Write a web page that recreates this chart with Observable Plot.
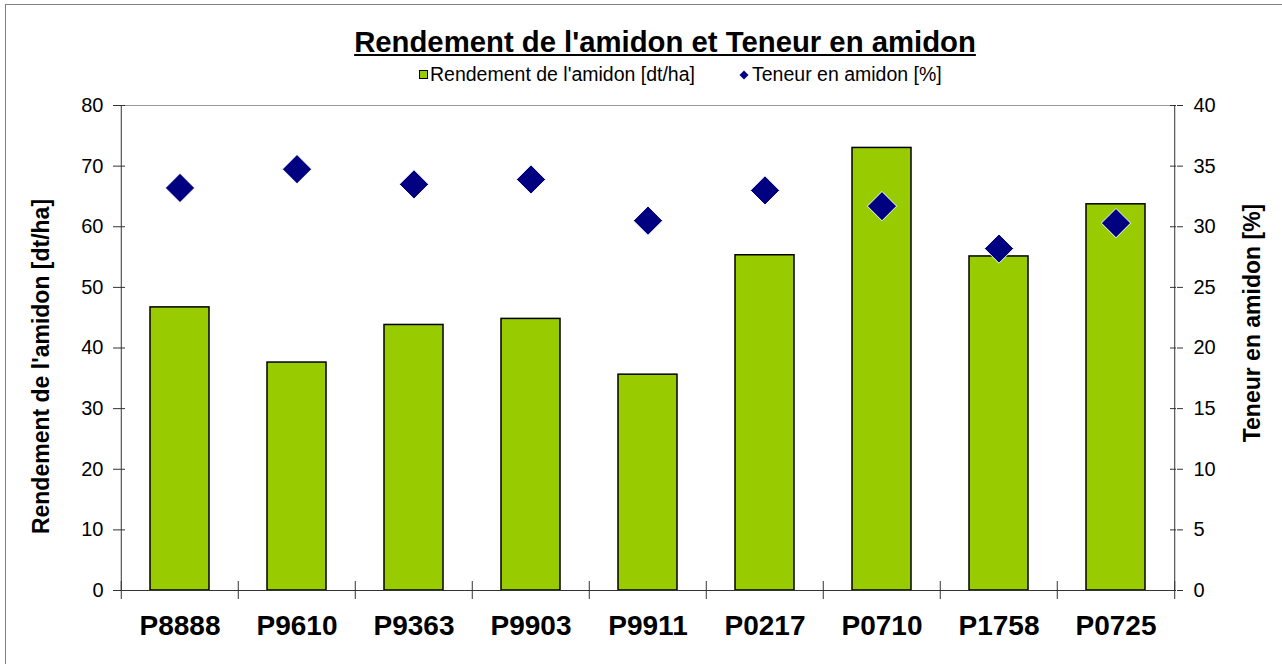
<!DOCTYPE html>
<html><head><meta charset="utf-8">
<script src="https://cdn.jsdelivr.net/npm/d3@7"></script>
<script src="https://cdn.jsdelivr.net/npm/@observablehq/plot@0.6"></script>
<style>
body{margin:0;background:#fff;overflow:hidden;font-family:Arial,"Liberation Sans",sans-serif}
#wrap{position:relative;width:1282px;height:664px;overflow:hidden;background:#fff}
#border{position:absolute;left:5px;top:4px;width:1320px;height:720px;border:1px solid #808080;box-sizing:border-box}
#chart{position:absolute;left:0;top:0}
#title{position:absolute;left:0;width:1330px;top:28px;text-align:center;font-size:29.3px;line-height:28px;font-weight:bold;text-decoration:underline;color:#000;white-space:nowrap}
.leg{position:absolute;top:65px;font-size:19.5px;line-height:19px;color:#000;white-space:nowrap}
#sq{position:absolute;left:419px;top:70px;width:9px;height:9px;background:#99cc00;border:1.5px solid #000;box-sizing:border-box}
#dm{position:absolute;left:739px;top:70px}
</style></head>
<body>
<div id="wrap">
  <div id="border"></div>
  <div id="chart"></div>
  <div id="title">Rendement de l'amidon et Teneur en amidon</div>
  <div id="sq"></div>
  <div class="leg" style="left:430px">Rendement de l'amidon [dt/ha]</div>
  <svg id="dm" width="10" height="10"><path d="M5,0.5L9.5,5L5,9.5L0.5,5Z" fill="#000080"/></svg>
  <div class="leg" style="left:752px">Teneur en amidon [%]</div>
</div>
<script>
const categories = ["P8888","P9610","P9363","P9903","P9911","P0217","P0710","P1758","P0725"];
const rendement = [46.7, 37.6, 43.8, 44.8, 35.6, 55.3, 73.0, 55.1, 63.7];
const teneur = [33.2, 34.75, 33.5, 33.9, 30.5, 33.0, 31.7, 28.2, 30.3];
const leftTicks = [0,10,20,30,40,50,60,70,80];
const rightTicks = [0,5,10,15,20,25,30,35,40];
const leftTitle = "Rendement de l'amidon [dt/ha]";
const rightTitle = "Teneur en amidon [%]";

const data = categories.map((c,i)=>({c, r: rendement[i], t: teneur[i]}));
const W=1282, H=664, mL=119, mR=106, mT=105, mB=74;
const plotW = W-mL-mR, plotH = H-mT-mB;
const step = plotW/categories.length;
const ratio = leftTicks[leftTicks.length-1]/rightTicks[rightTicks.length-1];
const axisCol = "#333";

const chart = Plot.plot({
  width:W, height:H, marginLeft:mL, marginRight:mR, marginTop:mT, marginBottom:mB,
  style:{fontFamily:'Arial,"Liberation Sans",sans-serif', background:"transparent", color:"#000"},
  x:{domain:categories, padding:0, axis:null},
  y:{domain:[0,80], axis:null},
  marks:[
    Plot.barY(data,{x:"c", y:"r", fill:"#99cc00", stroke:"#000", strokeWidth:1.5, insetLeft:29, insetRight:29}),
    Plot.ruleY([80],{stroke:"#999"}),
    Plot.ruleX([categories[0]],{dx:-step/2, stroke:axisCol}),
    Plot.ruleX([categories[categories.length-1]],{dx:step/2, stroke:axisCol}),
    Plot.ruleY([0],{stroke:axisCol}),
    Plot.ruleY(leftTicks,{y:d=>d, insetRight:plotW-6, stroke:axisCol}),
    Plot.ruleY(leftTicks,{y:d=>d, insetLeft:plotW-6, stroke:axisCol}),
    Plot.ruleX(categories,{x:d=>d, dx:-step/2, insetTop:plotH-9, insetBottom:-9, stroke:axisCol}),
    Plot.ruleX([categories[categories.length-1]],{x:d=>d, dx:step/2, insetTop:plotH-9, insetBottom:-9, stroke:axisCol}),
    Plot.axisY(leftTicks,{anchor:"left", tickSize:6, tickPadding:10, fontSize:20, stroke:axisCol, fill:"#000", label:null}),
    Plot.axisY(leftTicks,{anchor:"right", tickSize:6, tickPadding:11, fontSize:20, stroke:axisCol, fill:"#000", label:null, tickFormat:d=>String(d/ratio)}),
    Plot.axisX({tickSize:0, tickPadding:25, fontSize:28, fontWeight:"bold", fill:"#000", label:null}),
    Plot.dot(data,{x:"c", y:d=>d.t*ratio, symbol:"diamond2", r:13.2, fill:"#000080", stroke:"#fff", strokeWidth:1}),
    Plot.text([leftTitle],{text:d=>d, frameAnchor:"left", textAnchor:"middle", lineAnchor:"middle", dx:-78, dy:18.5, rotate:-90, fontSize:23, fontWeight:"bold", fill:"#000"}),
    Plot.text([rightTitle],{text:d=>d, frameAnchor:"right", textAnchor:"middle", lineAnchor:"middle", dx:76, dy:-25, rotate:-90, fontSize:23, fontWeight:"bold", fill:"#000"})
  ]
});
document.getElementById("chart").appendChild(chart);
</script>
</body></html>
